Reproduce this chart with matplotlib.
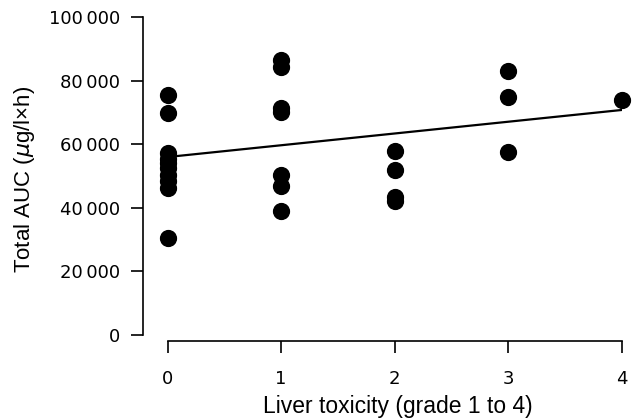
import matplotlib.pyplot as plt

# liver toxicity grade vs total AUC
grade = [0, 0, 0, 0, 0, 0, 0, 0, 0, 0,
         1, 1, 1, 1, 1, 1, 1,
         2, 2, 2, 2,
         3, 3, 3,
         4]
auc = [75600, 70000, 57200, 55500, 54000, 52500, 50500, 48300, 46200, 30500,
       86600, 84300, 71500, 70300, 50200, 46800, 38900,
       58000, 51800, 43300, 42300,
       83200, 75000, 57600,
       73800]

# regression line end points
fit_x = [0, 4]
fit_y = [56000, 70800]

xticks = [0, 1, 2, 3, 4]
yticks = [0, 20000, 40000, 60000, 80000, 100000]
ylabels = ['0', '20\u2009000', '40\u2009000', '60\u2009000', '80\u2009000', '100\u2009000']

plt.rcParams['font.family'] = ['Liberation Sans', 'DejaVu Sans']

fig = plt.figure(figsize=(6.41, 4.18), dpi=100)
ax = fig.add_axes([0.223, 0.184, 0.747, 0.775])

ax.plot(fit_x, fit_y, color='black', lw=1.6, zorder=2)
ax.scatter(grade, auc, s=130, color='black', zorder=3, clip_on=False)

ax.set_xlim(-0.217, 4.0)
ax.set_ylim(-1900, 100000)

ax.spines['top'].set_visible(False)
ax.spines['right'].set_visible(False)
ax.spines['left'].set_bounds(0, 100000)
ax.spines['bottom'].set_bounds(0, 4)
for s in ('left', 'bottom'):
    ax.spines[s].set_linewidth(1.2)

ax.set_xticks(xticks)
ax.set_yticks(yticks)
ax.set_yticklabels(ylabels)
ax.tick_params(direction='out', length=8.5, width=1.2, labelsize=13)
ax.tick_params(axis='x', pad=12)
ax.tick_params(axis='y', pad=8)
for lab in ax.get_xticklabels() + ax.get_yticklabels():
    lab.set_family(['DejaVu Sans'])

ax.set_xlabel('Liver toxicity (grade 1 to 4)', fontsize=16.5, labelpad=5.5)
ax.xaxis.label.set_x(0.532)
ax.set_ylabel(r'Total AUC ($\mu$g/l×h)', fontsize=16, labelpad=8.5)

fig.savefig('out.png', dpi=100)
